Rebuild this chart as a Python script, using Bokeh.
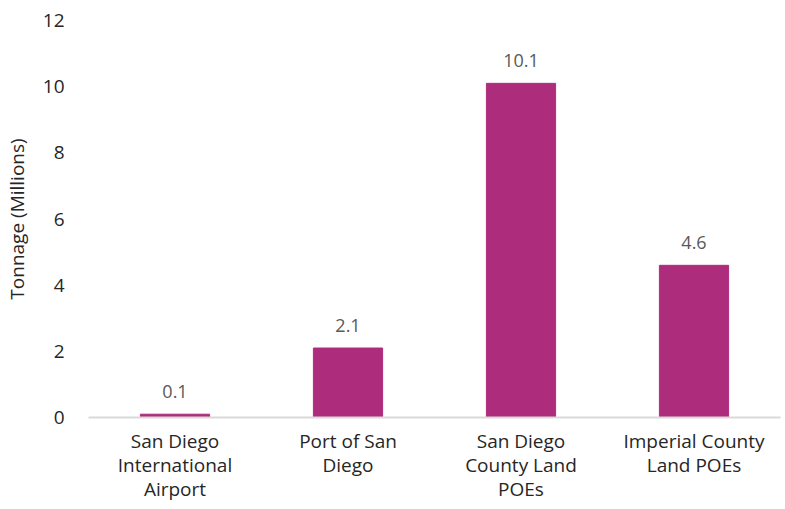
from bokeh.plotting import figure
from bokeh.models import ColumnDataSource, Range1d, FixedTicker
from bokeh.core.properties import value
from bokeh.embed import file_html
from bokeh.resources import INLINE

categories = ["San Diego\nInternational\nAirport", "Port of San\nDiego",
              "San Diego\nCounty Land\nPOEs", "Imperial County\nLand POEs"]
tonnage = [0.1, 2.1, 10.1, 4.6]
labels = ["0.1", "2.1", "10.1", "4.6"]
y_ticks = [0, 2, 4, 6, 8, 10, 12]

FONT = "Open Sans"
src = ColumnDataSource(dict(cat=categories, val=tonnage, lab=labels))

p = figure(x_range=categories, y_range=Range1d(0, 12), width=781, height=505,
           output_backend="svg", toolbar_location=None,
           min_border_left=88, min_border_right=1, min_border_top=20, min_border_bottom=87)
p.outline_line_color = None
p.xgrid.grid_line_color = None
p.ygrid.grid_line_color = None

p.vbar(x="cat", top="val", width=0.4, source=src, color="#AE2C7C")
p.text(x="cat", y="val", text="lab", source=src, text_align="center",
       text_baseline="bottom", y_offset=-16, text_font=value(FONT),
       text_font_size="18px", text_color="#595959")

p.yaxis.ticker = FixedTicker(ticks=y_ticks)
p.yaxis.axis_line_color = None
p.yaxis.major_tick_line_color = None
p.yaxis.minor_tick_line_color = None
p.yaxis.major_label_text_font = FONT
p.yaxis.major_label_text_font_size = "19px"
p.yaxis.major_label_text_color = "#262626"
p.yaxis.major_label_standoff = 18
p.yaxis.axis_label = "Tonnage (Millions)"
p.yaxis.axis_label_text_font = FONT
p.yaxis.axis_label_text_font_style = "normal"
p.yaxis.axis_label_text_font_size = "19px"
p.yaxis.axis_label_text_color = "#262626"
p.yaxis.axis_label_standoff = 10

p.xaxis.axis_line_color = "#D9D9D9"
p.xaxis.axis_line_width = 2
p.xaxis.major_tick_line_color = None
p.xaxis.minor_tick_line_color = None
p.xaxis.major_label_text_font = FONT
p.xaxis.major_label_text_font_size = "19px"
p.xaxis.major_label_text_color = "#262626"
p.xaxis.major_label_text_line_height = 0.94
p.xaxis.major_label_standoff = 4
p.xaxis.major_label_orientation = "horizontal"

open("out.html", "w").write(file_html(p, INLINE))
